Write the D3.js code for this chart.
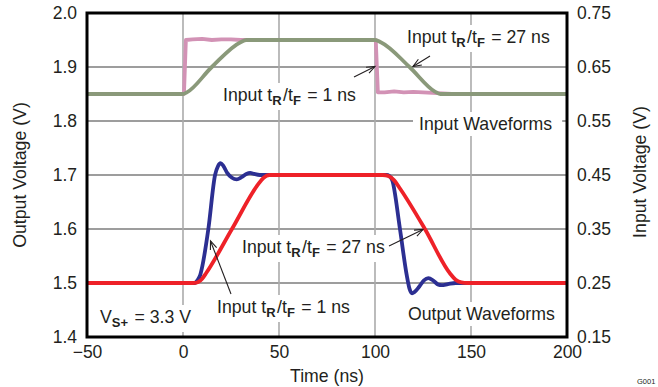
<!DOCTYPE html>
<html><head><meta charset="utf-8">
<script src="https://cdn.jsdelivr.net/npm/d3@7/dist/d3.min.js"></script>
<style>
html,body{margin:0;padding:0;background:#fff;}
svg text{font-family:"Liberation Sans",Arial,Helvetica,sans-serif;fill:#231f20;}
</style></head>
<body><svg id="c" width="658" height="387"></svg>
<script>
// ---- data ----
const xTicks = [-50, 0, 50, 100, 150, 200];
const yTicksLeft = [1.4, 1.5, 1.6, 1.7, 1.8, 1.9, 2.0];
const yTicksRight = [0.15, 0.25, 0.35, 0.45, 0.55, 0.65, 0.75];
const gridX = [0, 50, 100, 150];
const gridY = [1.5, 1.6, 1.7, 1.8, 1.9];

// Input waveform 1 ns (pink), time ns / left-axis volts
const pinkT = [-50, 0, 0.5, 1.5, 5, 10, 15, 20, 25, 30, 100, 100.4, 101.5, 105, 110, 115, 120, 125, 130, 135, 140, 200];
const pinkV = [1.85, 1.85, 1.85, 1.95, 1.951, 1.952, 1.950, 1.951, 1.951, 1.95, 1.95, 1.95, 1.853, 1.853, 1.855, 1.853, 1.854, 1.853, 1.852, 1.851, 1.85, 1.85];
// Input waveform 27 ns (green)
const greenT = [-50, 0, 2, 15, 30, 33, 100, 103, 118, 131, 134, 200];
const greenV = [1.85, 1.85, 1.853, 1.90, 1.946, 1.95, 1.95, 1.946, 1.90, 1.855, 1.85, 1.85];
// Output 1 ns (blue)
const blueT = [-50, 6, 7.5, 9, 10, 13.2, 16.7, 18.3, 19.5, 21, 23, 25.5, 28, 30.5, 33, 35, 37, 40, 106, 107.5, 109, 113, 116.5, 118, 119.3, 120.5, 123, 125.5, 127.8, 130.5, 133, 134.7, 138, 142, 200];
const blueV = [1.5, 1.5, 1.505, 1.515, 1.53, 1.60, 1.70, 1.717, 1.722, 1.717, 1.704, 1.695, 1.692, 1.696, 1.702, 1.704, 1.702, 1.70, 1.70, 1.698, 1.69, 1.60, 1.515, 1.489, 1.481, 1.483, 1.493, 1.505, 1.509, 1.504, 1.497, 1.496, 1.498, 1.5, 1.5];
// Output 27 ns (red)
const redT = [-50, 5, 8, 10, 12, 25.5, 39, 42, 45, 104, 107, 110, 113, 126, 139, 142, 145, 148, 200];
const redV = [1.5, 1.5, 1.502, 1.508, 1.518, 1.60, 1.682, 1.695, 1.70, 1.70, 1.698, 1.69, 1.675, 1.60, 1.518, 1.506, 1.501, 1.5, 1.5];

// ---- layout ----
const svg = d3.select("#c");
const L = 87, R = 567, T = 13, B = 337;
const x = d3.scaleLinear().domain([-50, 200]).range([L, R]);
const y = d3.scaleLinear().domain([1.4, 2.0]).range([B, T]);
const y2 = d3.scaleLinear().domain([0.15, 0.75]).range([B, T]);
const fontSize = 17.7;

// grid
svg.append("g").selectAll("line").data(gridY).join("line")
  .attr("x1", L).attr("x2", R).attr("y1", d => y(d)).attr("y2", d => y(d))
  .attr("stroke", "#7d7d7d").attr("stroke-width", 1.4);
svg.append("g").selectAll("line").data(gridX).join("line")
  .attr("y1", T).attr("y2", B).attr("x1", d => x(d)).attr("x2", d => x(d))
  .attr("stroke", "#ababab").attr("stroke-width", 1.6);

// labels with white backgrounds
const labG = svg.append("g");
function label(xp, yp, parts, anchor, pad) {
  const t = labG.append("text").attr("x", xp).attr("y", yp)
    .attr("font-size", fontSize).attr("text-anchor", anchor || "start");
  parts.forEach(p => {
    if (p.sub) {
      t.append("tspan").attr("font-size", 13).attr("font-weight", "bold").attr("dy", 4).text(p.sub);
      t.append("tspan").attr("font-size", fontSize).attr("dy", -4).text("\u200A");
    } else {
      t.append("tspan").text(p.t);
    }
  });
  const bb = t.node().getBBox();
  const p = pad || [5, 2, 5, 2];
  labG.insert("rect", "text").attr("x", bb.x - p[0]).attr("y", bb.y - p[1])
    .attr("width", bb.width + p[0] + p[2]).attr("height", bb.height + p[1] + p[3]).attr("fill", "#fff");
  return t;
}
label(223, 101, [{t: "Input t"}, {sub: "R"}, {t: "/t"}, {sub: "F"}, {t: " = 1 ns"}]);
label(407, 43, [{t: "Input t"}, {sub: "R"}, {t: "/t"}, {sub: "F"}, {t: " = 27 ns"}]);
label(419, 130, [{t: "Input Waveforms"}], "start", [6, 2, 10, 2]);
label(242, 253, [{t: "Input t"}, {sub: "R"}, {t: "/t"}, {sub: "F"}, {t: " = 27 ns"}]);
label(217, 313, [{t: "Input t"}, {sub: "R"}, {t: "/t"}, {sub: "F"}, {t: " = 1 ns"}]);
label(100, 323, [{t: "V"}, {sub: "S+"}, {t: " = 3.3 V"}]);
label(408, 320, [{t: "Output Waveforms"}], "start", [6, 2, 10, 2]);

// curves
function drawLine(ts, vs, color, curve) {
  const pts = ts.map((t, i) => [t, vs[i]]);
  svg.append("path").datum(pts)
    .attr("d", d3.line().x(d => x(d[0])).y(d => y(d[1])).curve(curve))
    .attr("fill", "none").attr("stroke", color).attr("stroke-width", 3.8)
    .attr("stroke-linejoin", "round").attr("stroke-linecap", "butt");
}
drawLine(pinkT, pinkV, "#d292b5", d3.curveLinear);
drawLine(greenT, greenV, "#8a997a", d3.curveMonotoneX);
drawLine(blueT, blueV, "#2c2f92", d3.curveMonotoneX);
drawLine(redT, redV, "#ee2128", d3.curveMonotoneX);

// arrows
const arrows = [
  [354, 77, 375, 66.5],
  [430, 56, 413, 66.5],
  [389, 246, 423, 229.5],
  [231, 294, 210.5, 241]
];
const arrG = svg.append("g").attr("stroke", "#231f20").attr("stroke-width", 1.1).attr("fill", "none");
arrows.forEach(a => {
  arrG.append("line").attr("x1", a[0]).attr("y1", a[1]).attr("x2", a[2]).attr("y2", a[3]);
  const ang = Math.atan2(a[3] - a[1], a[2] - a[0]);
  const len = 9, sp = 0.38;
  const p1 = [a[2] - len * Math.cos(ang - sp), a[3] - len * Math.sin(ang - sp)];
  const p2 = [a[2] - len * Math.cos(ang + sp), a[3] - len * Math.sin(ang + sp)];
  arrG.append("path").attr("d", `M${p1[0]},${p1[1]}L${a[2]},${a[3]}L${p2[0]},${p2[1]}`);
});

// frame
svg.append("rect").attr("x", L).attr("y", T).attr("width", R - L).attr("height", B - T)
  .attr("fill", "none").attr("stroke", "#000").attr("stroke-width", 3);

// axes
const ax = svg.append("g").attr("transform", `translate(0,${B + 4})`)
  .call(d3.axisBottom(x).tickValues(xTicks).tickSize(0).tickPadding(0).tickFormat(d3.format("d")));
const ayl = svg.append("g").attr("transform", `translate(${L - 10},0)`)
  .call(d3.axisLeft(y).tickValues(yTicksLeft).tickSize(0).tickPadding(0).tickFormat(d3.format(".1f")));
const ayr = svg.append("g").attr("transform", `translate(${R + 10},0)`)
  .call(d3.axisRight(y2).tickValues(yTicksRight).tickSize(0).tickPadding(0).tickFormat(d3.format(".2f")));
[ax, ayl, ayr].forEach(g => {
  g.select(".domain").remove();
  g.selectAll("text").attr("font-size", 17.5).attr("fill", "#231f20")
    .attr("font-family", "'Liberation Sans',Arial,Helvetica,sans-serif");
});
ax.selectAll("text").attr("dy", "0.95em");

// axis titles
svg.append("text").attr("x", (L + R) / 2).attr("y", 382).attr("text-anchor", "middle")
  .attr("font-size", 17.7).text("Time (ns)");
svg.append("text").attr("transform", `translate(26,175) rotate(-90)`).attr("text-anchor", "middle")
  .attr("font-size", 17.7).text("Output Voltage (V)");
svg.append("text").attr("transform", `translate(646,172) rotate(-90)`).attr("text-anchor", "middle")
  .attr("font-size", 17.7).text("Input Voltage (V)");
svg.append("text").attr("x", 637).attr("y", 384).attr("font-size", 7.5).attr("fill", "#555").text("G001");
</script></body></html>
